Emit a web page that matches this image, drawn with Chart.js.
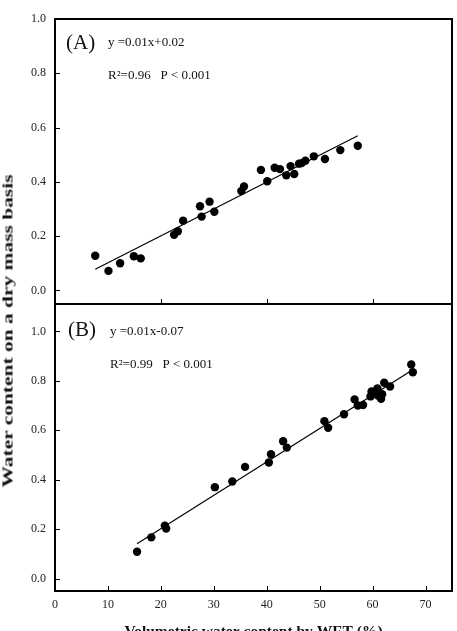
<!DOCTYPE html>
<html>
<head>
<meta charset="utf-8">
<script src="https://cdn.jsdelivr.net/npm/chart.js@4.4.0/dist/chart.umd.min.js"></script>
<style>
  html, body { margin: 0; padding: 0; background: #fff; overflow: hidden; }
  #wrap { position: relative; width: 457px; height: 631px; overflow: hidden; }
  #graphA { position: absolute; left: 0; top: 0; }
  #graphB { position: absolute; left: 0; top: 300px; }
  #yTitle {
    position: absolute; left: 8px; top: 331px; white-space: nowrap;
    font: bold 15px 'Liberation Serif', 'Times New Roman', serif; color: #111;
    transform: translate(-50%, -50%) rotate(-90deg) scaleX(1.43);
  }
</style>
</head>
<body>
<div id="wrap">
  <canvas id="graphA" width="457" height="310"></canvas>
  <canvas id="graphB" width="457" height="345"></canvas>
  <div id="yTitle">Water content on a dry mass basis</div>
</div>
<script>
//--------------------- DATA -------------------------
const xTicks = [0, 10, 20, 30, 40, 50, 60, 70];
const xTicksTop = [20, 40, 60];
const yTicks = [0, 0.2, 0.4, 0.6, 0.8, 1.0];

// panel A
const wetA = [7.6, 10.1, 12.3, 14.9, 16.2, 22.5, 23.2, 24.2, 27.4, 27.7, 29.2, 30.1, 35.2, 35.7,
  38.9, 40.1, 41.5, 42.5, 43.7, 44.5, 45.2, 46.1, 46.6, 47.3, 48.9, 51.0, 53.9, 57.2];
const massA = [0.128, 0.072, 0.100, 0.126, 0.118, 0.205, 0.218, 0.257, 0.310, 0.272, 0.327, 0.290, 0.366, 0.383,
  0.444, 0.402, 0.452, 0.447, 0.424, 0.458, 0.429, 0.467, 0.469, 0.478, 0.494, 0.484, 0.517, 0.533];
const fitAx = [7.6, 57.2];
const fitAy = [0.078, 0.570];

// panel B
const wetB = [15.5, 18.2, 20.75, 21.0, 30.2, 33.5, 35.9, 40.4, 40.8, 43.1, 43.8, 50.9, 51.6, 54.6,
  56.6, 57.2, 58.2, 59.6, 59.8, 60.9, 61.0, 61.6, 61.8, 62.2, 63.3, 67.3, 67.6];
const massB = [0.109, 0.167, 0.214, 0.203, 0.370, 0.393, 0.452, 0.470, 0.503, 0.556, 0.530, 0.637, 0.610, 0.665,
  0.725, 0.700, 0.702, 0.737, 0.757, 0.769, 0.741, 0.727, 0.746, 0.792, 0.777, 0.866, 0.835];
const fitBx = [15.5, 67.6];
const fitBy = [0.141, 0.845];

//--------------------- HELPERS -------------------------
const SERIF = "'Liberation Serif', 'Times New Roman', serif";

function points(xs, ys) {
    return xs.map((x, i) => ({ x: x, y: ys[i] }));
}

function fixTicks(list) {
    return function (scale) {
        scale.ticks = list.map(v => ({ value: v }));
    };
}

// force axis box size, drop the label overflow padding
function fixSize(w, h) {
    return function (scale) {
        if (w !== null) scale.width = w;
        if (h !== null) scale.height = h;
        scale.paddingTop = 0;
        scale.paddingBottom = 0;
        scale.paddingLeft = 0;
        scale.paddingRight = 0;
    };
}

// equation / R2 text inside each panel
function panelText(items) {
    return {
        id: 'panelText',
        afterDraw(chart) {
            const ctx = chart.ctx;
            ctx.save();
            ctx.fillStyle = '#111';
            ctx.textBaseline = 'middle';
            items.forEach(it => {
                ctx.font = it.font;
                ctx.fillText(it.text, it.x, it.y);
            });
            ctx.restore();
        }
    };
}

// tick marks pointing into the plot
function innerTicks(xList, yList) {
    return {
        id: 'innerTicks',
        afterDraw(chart) {
            const { ctx, chartArea: a, scales } = chart;
            ctx.save();
            ctx.strokeStyle = '#000';
            ctx.lineWidth = 1;
            ctx.beginPath();
            xList.forEach(v => {
                const px = Math.round(scales.x.getPixelForValue(v)) + 0.5;
                ctx.moveTo(px, a.bottom);
                ctx.lineTo(px, a.bottom - 5);
            });
            yList.forEach(v => {
                const py = Math.round(scales.y.getPixelForValue(v)) + 0.5;
                ctx.moveTo(a.left, py);
                ctx.lineTo(a.left + 5, py);
            });
            ctx.stroke();
            ctx.restore();
        }
    };
}

const noGrid = { drawOnChartArea: false, drawTicks: false };
const frame = { color: '#000', width: 2 };
const tickFont = { family: SERIF, size: 12 };

function datasets(fx, fy, xs, ys) {
    return [
        { data: points(fx, fy), showLine: true, borderColor: '#000', borderWidth: 1.2, pointRadius: 0, fill: false },
        { data: points(xs, ys), backgroundColor: '#000', borderColor: '#000', pointRadius: 4.2, borderWidth: 0 }
    ];
}

//--------------------- PANEL A -------------------------
const configA = {
    type: 'scatter',
    data: { datasets: datasets(fitAx, fitAy, wetA, massA) },
    options: {
        responsive: false,
        animation: false,
        layout: { padding: { left: 0, right: 5, top: 19, bottom: 0 } },
        plugins: { legend: { display: false }, tooltip: { enabled: false } },
        scales: {
            x: {
                type: 'linear', position: 'bottom', min: 0, max: 75,
                afterBuildTicks: fixTicks(xTicksTop),
                ticks: { display: false },
                grid: noGrid, border: frame,
                afterFit: fixSize(null, 6)
            },
            xTop: {
                type: 'linear', position: 'top', min: 0, max: 75,
                ticks: { display: false }, grid: noGrid, border: frame,
                afterFit: fixSize(null, 0)
            },
            y: {
                type: 'linear', position: 'left', min: -0.05, max: 1.0,
                afterBuildTicks: fixTicks(yTicks),
                ticks: { font: tickFont, color: '#222', padding: 9, callback: v => v.toFixed(1) },
                grid: noGrid, border: frame,
                afterFit: fixSize(55, null)
            },
            yRight: {
                type: 'linear', position: 'right', min: 0, max: 1,
                ticks: { display: false }, grid: noGrid, border: frame,
                afterFit: fixSize(0, null)
            }
        }
    },
    plugins: [
        innerTicks(xTicksTop, yTicks),
        panelText([
            { text: '(A)', x: 66, y: 43, font: '21px ' + SERIF },
            { text: 'y =0.01x+0.02', x: 108, y: 43, font: '13px ' + SERIF },
            { text: 'R\u00b2=0.96   P < 0.001', x: 108, y: 76, font: '13px ' + SERIF }
        ])
    ]
};

//--------------------- PANEL B -------------------------
const configB = {
    type: 'scatter',
    data: { datasets: datasets(fitBx, fitBy, wetB, massB) },
    options: {
        responsive: false,
        animation: false,
        layout: { padding: { left: 0, right: 5, top: 4, bottom: 0 } },
        plugins: { legend: { display: false }, tooltip: { enabled: false } },
        scales: {
            x: {
                type: 'linear', position: 'bottom', min: 0, max: 75,
                afterBuildTicks: fixTicks(xTicks),
                ticks: { font: tickFont, color: '#222', padding: 7, maxRotation: 0, callback: v => String(v) },
                grid: noGrid, border: frame,
                title: {
                    display: true, text: 'Volumetric water content by WET (%)', color: '#111',
                    font: { family: SERIF, size: 15.5, weight: 'bold' }, padding: { top: 0, bottom: 3.7 }
                },
                afterFit: fixSize(null, 54)
            },
            xTop: {
                type: 'linear', position: 'top', min: 0, max: 75,
                ticks: { display: false }, grid: noGrid, border: frame,
                afterFit: fixSize(null, 0)
            },
            y: {
                type: 'linear', position: 'left', min: -0.05, max: 1.11,
                afterBuildTicks: fixTicks(yTicks),
                ticks: { font: tickFont, color: '#222', padding: 9, callback: v => v.toFixed(1) },
                grid: noGrid, border: frame,
                afterFit: fixSize(55, null)
            },
            yRight: {
                type: 'linear', position: 'right', min: 0, max: 1,
                ticks: { display: false }, grid: noGrid, border: frame,
                afterFit: fixSize(0, null)
            }
        }
    },
    plugins: [
        innerTicks(xTicks, yTicks),
        panelText([
            { text: '(B)', x: 68, y: 30, font: '21px ' + SERIF },
            { text: 'y =0.01x-0.07', x: 110, y: 32, font: '13px ' + SERIF },
            { text: 'R\u00b2=0.99   P < 0.001', x: 110, y: 65, font: '13px ' + SERIF }
        ])
    ]
};

//--------------------- RENDER -------------------------
const graphA = new Chart(document.getElementById('graphA').getContext('2d'), configA);
const graphB = new Chart(document.getElementById('graphB').getContext('2d'), configB);
</script>
</body>
</html>
